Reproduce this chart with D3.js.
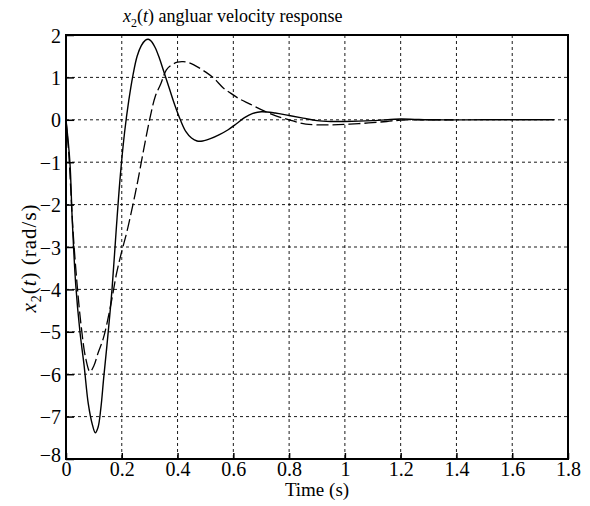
<!DOCTYPE html>
<html><head><meta charset="utf-8">
<script src="https://cdn.jsdelivr.net/npm/d3@7"></script>
<style>body{margin:0;background:#fff}svg{display:block}</style>
</head><body>
<svg id="chart" width="590" height="506"></svg>
<script>
const xTicks = [0,0.2,0.4,0.6,0.8,1,1.2,1.4,1.6,1.8];
const xTickLabels = ["0","0.2","0.4","0.6","0.8","1","1.2","1.4","1.6","1.8"];
const yTicks = [2,1,0,-1,-2,-3,-4,-5,-6,-7,-8];
const yTickLabels = ["2","1","0","\u22121","\u22122","\u22123","\u22124","\u22125","\u22126","\u22127","\u22128"];

const tSolid = [0,0.014,0.022,0.035,0.05,0.065,0.08,0.095,0.105,0.115,0.125,0.135,0.15,0.165,0.18,0.195,0.21,0.225,0.24,0.255,0.27,0.285,0.295,0.305,0.32,0.335,0.35,0.37,0.39,0.41,0.43,0.45,0.47,0.49,0.52,0.55,0.58,0.61,0.64,0.67,0.70,0.75,0.80,0.85,0.90,0.95,1.0,1.1,1.2,1.25,1.3,1.5,1.75];
const vSolid = [0,-1.0,-2.3,-3.9,-5.0,-5.8,-6.7,-7.2,-7.38,-7.25,-6.8,-6.1,-5.1,-4.0,-2.6,-1.3,-0.3,0.45,1.05,1.5,1.75,1.88,1.9,1.86,1.7,1.45,1.15,0.75,0.35,0.0,-0.28,-0.43,-0.5,-0.5,-0.44,-0.35,-0.24,-0.1,0.05,0.15,0.19,0.16,0.1,0.04,-0.02,-0.04,-0.04,-0.02,0.02,0.01,0.0,0.0,0.0];

const tDashed = [0,0.01,0.025,0.04,0.055,0.07,0.086,0.1,0.115,0.134,0.158,0.182,0.2,0.218,0.24,0.258,0.28,0.301,0.32,0.34,0.36,0.38,0.40,0.42,0.44,0.46,0.50,0.53,0.564,0.59,0.62,0.66,0.71,0.75,0.80,0.86,0.95,1.05,1.15,1.2,1.25,1.39];
const vDashed = [0,-0.8,-2.6,-3.9,-4.9,-5.6,-5.94,-5.8,-5.5,-5.15,-4.45,-3.6,-3.1,-2.65,-2.0,-1.42,-0.65,0.04,0.55,0.85,1.18,1.3,1.36,1.37,1.35,1.29,1.13,0.98,0.75,0.63,0.5,0.37,0.21,0.1,0.0,-0.1,-0.12,-0.09,-0.04,-0.01,0.0,0.0];

const L = 66, R = 568, T = 35, B = 459;
const svg = d3.select("#chart");
const x = d3.scaleLinear().domain([0,1.8]).range([L,R]);
const y = d3.scaleLinear().domain([-8,2]).range([B,T]);
const font = "'Liberation Serif','Times New Roman',serif";
const FS = 20;

// grid
const g = svg.append("g");
g.selectAll(".vg").data(xTicks.slice(1,-1)).join("line")
  .attr("x1",d=>x(d)).attr("x2",d=>x(d)).attr("y1",T).attr("y2",B)
  .attr("stroke","#000").attr("stroke-width",0.9).attr("stroke-dasharray","3,3");
g.selectAll(".hg").data(yTicks.slice(1,-1)).join("line")
  .attr("y1",d=>y(d)).attr("y2",d=>y(d)).attr("x1",L).attr("x2",R)
  .attr("stroke","#000").attr("stroke-width",0.9).attr("stroke-dasharray","3,3");

// axes with inward ticks
const ax = svg.append("g").attr("transform",`translate(0,${B})`)
  .call(d3.axisBottom(x).tickValues(xTicks).tickSizeInner(-6).tickSizeOuter(0).tickFormat((d,i)=>xTickLabels[i]).tickPadding(3));
const ay = svg.append("g").attr("transform",`translate(${L},0)`)
  .call(d3.axisLeft(y).tickValues(yTicks).tickSizeInner(-8).tickSizeOuter(0).tickFormat((d,i)=>yTickLabels[i]).tickPadding(5));
[ax,ay].forEach(a=>{
  a.select(".domain").remove();
  a.selectAll("line").attr("stroke","#000").attr("stroke-width",1.5);
  a.selectAll("text").attr("font-family",font).attr("font-size",FS).attr("fill","#000");
});
ax.selectAll("text").attr("dy","0.71em");
ay.selectAll("text").attr("dy","0.35em");
ay.selectAll("text").filter(d=>d===-8).attr("dy","0.1em");

// frame
svg.append("rect").attr("x",L).attr("y",T).attr("width",R-L).attr("height",B-T)
  .attr("fill","none").attr("stroke","#000").attr("stroke-width",2);

// curves
const line = d3.line().curve(d3.curveCatmullRom.alpha(0.5));
svg.append("path").attr("d",line(tSolid.map((t,i)=>[x(t),y(vSolid[i])])))
  .attr("fill","none").attr("stroke","#000").attr("stroke-width",1.4);
svg.append("path").attr("d",line(tDashed.map((t,i)=>[x(t),y(vDashed[i])])))
  .attr("fill","none").attr("stroke","#000").attr("stroke-width",1.3).attr("stroke-dasharray","12,4");

// title
const title = svg.append("text").attr("x",123).attr("y",22).attr("font-family",font).attr("font-size",18).attr("fill","#000");
title.append("tspan").attr("font-style","italic").text("x");
title.append("tspan").attr("font-size",12).attr("dy",5).text("2");
title.append("tspan").attr("dy",-5).text("(");
title.append("tspan").attr("font-style","italic").text("t");
title.append("tspan").text(") angluar velocity response");

// x label
svg.append("text").attr("x",(L+R)/2).attr("y",496).attr("text-anchor","middle")
  .attr("font-family",font).attr("font-size",19).attr("fill","#000").text("Time (s)");

// y label
const yl = svg.append("text").attr("transform","translate(36,258) rotate(-90)").attr("text-anchor","middle")
  .attr("font-family",font).attr("font-size",21).attr("letter-spacing",1).attr("fill","#000");
yl.append("tspan").attr("font-style","italic").text("x");
yl.append("tspan").attr("font-size",14).attr("dy",5).text("2");
yl.append("tspan").attr("dy",-5).text("(");
yl.append("tspan").attr("font-style","italic").text("t");
yl.append("tspan").text(") (rad/s)");
</script>
</body></html>
